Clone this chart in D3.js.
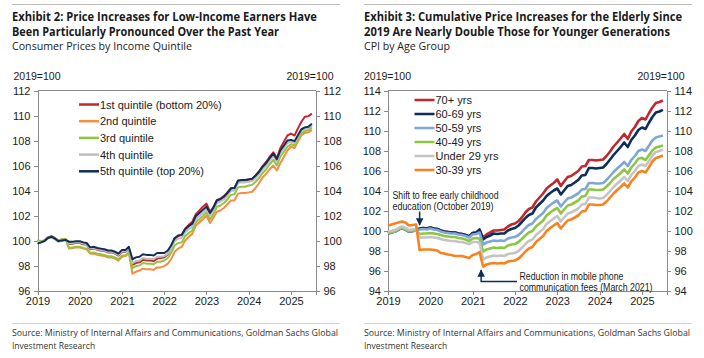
<!DOCTYPE html>
<html>
<head>
<meta charset="utf-8">
<script src="https://cdn.jsdelivr.net/npm/d3@7"></script>
<style>
  body { margin: 0; background: #fff; }
  svg { display: block; }
  .ax text { font-family: "Liberation Sans", Arial, sans-serif; font-size: 11px; fill: #1a1a1a; }
  .ax path, .ax line { stroke: #8a8a8a; stroke-width: 1; shape-rendering: crispEdges; }
</style>
</head>
<body>
<svg id="chart" width="704" height="358"></svg>
<script>
// ---------- data (monthly, Jan 2019 – Jul 2025) ----------
const startMonth = [2019, 0];
const nMonths = 79;
const yearTicks = [2019, 2020, 2021, 2022, 2023, 2024, 2025];

// Exhibit 2: CPI by income quintile (2019=100)
const quintileNames = ["1st quintile (bottom 20%)", "2nd quintile", "3rd quintile", "4th quintile", "5th quintile (top 20%)"];
const quintileColors = ["#c3282f", "#f68d3f", "#8dc641", "#bdbdbd", "#0f2e57"];
const q1 = [99.95,99.9,100.0,100.25,100.35,100.2,100.0,100.05,100.1,99.75,99.75,99.8,
  99.8,99.7,99.65,99.3,99.35,99.25,99.2,99.15,99.05,99.05,98.95,98.8,
  99.1,99.1,99.35,98.05,98.2,98.25,98.45,98.4,98.4,98.35,98.55,98.6,
  98.65,98.9,99.4,100.1,100.35,100.45,100.95,101.25,101.5,102.1,102.4,102.7,
  102.95,102.3,102.65,103.25,103.35,103.55,103.85,104.2,104.2,104.75,104.8,104.8,
  104.85,104.9,105.2,105.55,105.95,106.3,106.7,107.05,106.6,107.4,107.9,108.4,
  108.55,108.4,108.95,109.5,109.9,109.95,110.15];
const q2 = [100.0,99.95,100.0,100.2,100.3,100.15,100.0,100.1,100.1,99.35,99.4,99.45,
  99.45,99.35,99.3,98.95,98.95,98.85,98.8,98.75,98.65,98.65,98.55,98.4,
  98.7,98.75,99.0,97.35,97.5,97.6,97.75,97.7,97.7,97.65,97.85,97.85,
  97.95,98.15,98.5,99.1,99.35,99.5,100.0,100.3,100.55,101.2,101.45,101.7,
  102.0,101.4,101.8,102.3,102.4,102.6,102.9,103.2,103.2,103.75,103.8,103.8,
  103.85,103.9,104.2,104.6,105.05,105.35,105.7,106.0,105.6,106.2,106.7,107.2,
  107.5,107.4,107.9,108.4,108.6,108.65,108.85];
const q3 = [100.0,99.95,100.0,100.2,100.3,100.15,100.0,100.1,100.1,99.4,99.45,99.5,
  99.5,99.4,99.35,99.0,99.05,98.95,98.9,98.85,98.75,98.75,98.65,98.5,
  98.8,98.8,99.05,97.8,97.95,98.0,98.2,98.15,98.15,98.1,98.3,98.3,
  98.4,98.6,99.0,99.6,99.8,99.85,100.35,100.6,100.8,101.45,101.7,101.95,
  102.25,101.7,102.1,102.7,102.8,103.0,103.3,103.65,103.7,104.25,104.3,104.3,
  104.4,104.45,104.7,105.0,105.4,105.7,106.1,106.45,106.0,106.7,107.1,107.5,
  107.7,107.6,108.05,108.55,108.75,108.8,109.05];
const q4 = [99.95,99.85,99.95,100.15,100.25,100.1,99.9,99.95,100.0,99.8,99.8,99.85,
  99.85,99.75,99.7,99.35,99.4,99.3,99.25,99.2,99.1,99.1,99.0,98.85,
  99.15,99.15,99.4,98.2,98.35,98.4,98.6,98.55,98.55,98.5,98.7,98.7,
  98.75,98.95,99.35,99.95,100.15,100.2,100.65,100.9,101.1,101.7,101.95,102.2,
  102.5,102.0,102.4,103.0,103.1,103.3,103.6,103.95,104.0,104.6,104.65,104.65,
  104.7,104.75,105.0,105.3,105.7,106.0,106.4,106.75,106.3,107.0,107.4,107.8,
  107.9,107.8,108.25,108.75,108.9,108.95,109.2];
const q5 = [99.75,99.85,99.95,100.2,100.3,100.15,99.95,100.0,100.05,99.9,99.9,99.95,
  99.95,99.85,99.8,99.45,99.5,99.4,99.35,99.3,99.2,99.2,99.1,98.95,
  99.25,99.25,99.5,98.5,98.65,98.7,98.9,98.85,98.85,98.8,99.0,99.0,
  99.0,99.2,99.6,100.2,100.4,100.45,100.9,101.15,101.35,101.95,102.2,102.45,
  102.7,102.2,102.6,103.2,103.3,103.5,103.8,104.15,104.2,104.8,104.85,104.85,
  104.9,104.95,105.2,105.5,105.9,106.2,106.6,106.95,106.5,107.2,107.6,108.0,
  108.05,107.95,108.4,108.9,109.05,109.1,109.35];
const leftYTicks = [96, 98, 100, 102, 104, 106, 108, 110, 112];

// Exhibit 3: CPI by age group (2019=100)
const ageNames = ["70+ yrs", "60-69 yrs", "50-59 yrs", "40-49 yrs", "Under 29 yrs", "30-39 yrs"];
const ageColors = ["#c0282e", "#0b2e5a", "#7ea6d8", "#8dc641", "#c4c4c4", "#f7821f"];
const age70 = [99.75,99.85,99.9,100.1,100.25,100.1,99.9,99.95,100.0,100.15,100.25,100.2,
  100.3,100.2,100.15,100.0,99.9,99.85,99.8,99.8,99.7,99.65,99.55,99.4,
  99.75,99.8,100.05,99.3,99.6,99.8,100.0,100.0,100.05,100.1,100.4,100.6,
  100.7,100.95,101.3,101.8,102.15,102.3,102.9,103.3,103.7,104.2,104.5,104.75,
  105.1,104.45,104.9,105.35,105.45,105.7,105.95,106.4,106.45,107.05,107.05,107.0,
  107.05,107.1,107.45,107.9,108.4,108.8,109.2,109.65,109.15,109.9,110.35,110.95,
  111.25,111.1,111.7,112.3,112.75,112.85,113.0];
const age60 = [99.7,99.8,99.9,100.1,100.25,100.1,99.9,99.95,100.0,100.2,100.25,100.2,
  100.3,100.2,100.15,100.0,99.9,99.85,99.8,99.8,99.7,99.65,99.55,99.4,
  99.75,99.8,100.1,99.1,99.35,99.5,99.7,99.65,99.7,99.7,100.0,100.15,
  100.25,100.5,100.85,101.25,101.55,101.7,102.3,102.65,103.0,103.45,103.75,104.0,
  104.2,103.6,104.0,104.45,104.55,104.8,105.05,105.5,105.55,106.25,106.25,106.2,
  106.25,106.3,106.65,107.1,107.55,107.95,108.35,108.8,108.35,109.05,109.5,110.05,
  110.3,110.15,110.75,111.35,111.8,111.9,112.07];
const age50 = [99.7,99.8,99.9,100.1,100.25,100.1,99.9,99.95,100.0,100.1,100.15,100.1,
  100.2,100.1,100.05,99.9,99.8,99.75,99.7,99.7,99.6,99.55,99.45,99.3,
  99.6,99.65,99.8,98.6,98.8,98.9,99.0,98.95,99.0,98.95,99.2,99.3,
  99.35,99.55,99.85,100.25,100.55,100.7,101.15,101.45,101.75,102.25,102.55,102.8,
  103.0,102.4,102.8,103.2,103.3,103.5,103.7,104.1,104.15,104.75,104.75,104.7,
  104.7,104.75,105.05,105.45,105.85,106.2,106.5,106.85,106.45,107.05,107.45,107.95,
  108.1,107.95,108.45,109.0,109.3,109.4,109.5];
const age40 = [99.8,99.85,99.95,100.15,100.3,100.15,99.95,100.0,100.05,99.65,99.7,99.7,
  99.75,99.7,99.65,99.55,99.45,99.4,99.35,99.35,99.25,99.2,99.1,98.95,
  99.2,99.25,99.2,97.9,98.1,98.2,98.3,98.25,98.3,98.25,98.5,98.6,
  98.65,98.85,99.15,99.5,99.8,99.95,100.4,100.7,101.0,101.5,101.8,102.05,
  102.25,101.7,102.1,102.5,102.6,102.8,103.0,103.4,103.45,104.1,104.1,104.05,
  104.05,104.1,104.4,104.75,105.15,105.45,105.75,106.1,105.7,106.3,106.7,107.2,
  107.25,107.05,107.5,108.0,108.3,108.4,108.5];
const ageU29 = [99.9,99.95,100.05,100.25,100.4,100.25,100.05,100.1,100.15,99.3,99.3,99.3,
  99.35,99.3,99.25,99.15,99.05,99.0,98.95,98.95,98.85,98.85,98.75,98.65,
  98.85,98.85,98.8,97.1,97.3,97.4,97.5,97.45,97.5,97.45,97.65,97.7,
  97.75,97.95,98.25,98.65,98.95,99.1,99.55,99.85,100.15,100.65,100.95,101.2,
  101.45,100.9,101.3,101.7,101.8,102.0,102.2,102.6,102.65,103.3,103.3,103.25,
  103.2,103.25,103.55,103.95,104.35,104.7,105.0,105.35,104.95,105.55,105.95,106.45,
  106.6,106.45,106.9,107.5,107.85,107.95,108.1];
const age30 = [100.5,100.6,100.7,100.8,100.9,100.8,100.5,100.55,100.6,98.05,98.1,98.1,
  98.1,98.05,98.0,97.75,97.7,97.6,97.55,97.45,97.45,97.45,97.35,97.25,
  97.55,97.65,97.85,96.4,96.6,96.7,96.75,96.7,96.75,96.7,96.9,96.95,
  97.0,97.2,97.5,97.9,98.2,98.35,98.85,99.15,99.45,99.95,100.25,100.5,
  100.75,100.2,100.6,101.0,101.1,101.3,101.5,101.9,101.95,102.6,102.6,102.55,
  102.55,102.6,102.9,103.3,103.7,104.05,104.35,104.7,104.3,104.9,105.3,105.8,
  105.95,105.8,106.3,106.9,107.25,107.35,107.5];
const rightYTicks = [94, 96, 98, 100, 102, 104, 106, 108, 110, 112, 114];

// ---------- drawing ----------
const svg = d3.select("#chart");
const months = d3.range(nMonths).map(i => new Date(startMonth[0], startMonth[1] + i, 1));
const titleFont = '"Open Sans", "Noto Sans", sans-serif';
const axisFont = '"Liberation Sans", Arial, sans-serif';

function fitText(sel, len) {
  return sel.attr("textLength", len).attr("lengthAdjust", "spacingAndGlyphs");
}

function header(x0, x1, lines, sub, subLen) {
  svg.append("line").attr("x1", x0).attr("x2", x1).attr("y1", 4.5).attr("y2", 4.5)
    .attr("stroke", "#bdbdbd").attr("stroke-width", 1);
  lines.forEach((l, i) => {
    fitText(svg.append("text").attr("x", x0).attr("y", 21 + i * 14.5)
      .attr("font-family", titleFont).attr("font-weight", 700).attr("font-size", 11.5)
      .attr("fill", "#1a1a1a"), l[1]).text(l[0]);
  });
  fitText(svg.append("text").attr("x", x0).attr("y", 50)
    .attr("font-family", titleFont).attr("font-size", 11.2).attr("fill", "#222"), subLen).text(sub);
}

function footer(x0, x1) {
  svg.append("line").attr("x1", x0).attr("x2", x1).attr("y1", 323.5).attr("y2", 323.5)
    .attr("stroke", "#cfcfcf").attr("stroke-width", 1);
  fitText(svg.append("text").attr("x", x0).attr("y", 336)
    .attr("font-family", titleFont).attr("font-size", 8.5).attr("fill", "#333"), 326)
    .text("Source: Ministry of Internal Affairs and Communications, Goldman Sachs Global");
  svg.append("text").attr("x", x0).attr("y", 349)
    .attr("font-family", titleFont).attr("font-size", 8.5).attr("fill", "#333")
    .text("Investment Research");
}

function panel(opt) {
  const x = d3.scaleTime().domain([new Date(2019, 0, 1), new Date(2025, 7, 1)]).range([opt.left, opt.right]);
  const y = d3.scaleLinear().domain(opt.yDomain).range([290.5, 90.5]);
  const g = svg.append("g");

  g.append("line").attr("x1", opt.left).attr("x2", opt.right).attr("y1", y(opt.yDomain[1])).attr("y2", y(opt.yDomain[1]))
    .attr("stroke", "#8a8a8a").attr("shape-rendering", "crispEdges");

  g.append("g").attr("class", "ax").attr("transform", `translate(${opt.left},0)`)
    .call(d3.axisLeft(y).tickValues(opt.yTicks).tickSize(4).tickPadding(3).tickFormat(d3.format("d")));
  g.append("g").attr("class", "ax").attr("transform", `translate(${opt.right},0)`)
    .call(d3.axisRight(y).tickValues(opt.yTicks).tickSize(4).tickPadding(4).tickFormat(d3.format("d")));
  g.append("g").attr("class", "ax").attr("transform", `translate(0,${y(opt.yDomain[0])})`)
    .call(d3.axisBottom(x).tickValues(yearTicks.map(v => new Date(v, 0, 1))).tickSize(4).tickPadding(3)
      .tickFormat(d3.timeFormat("%Y")));

  g.append("text").attr("x", opt.left - 24).attr("y", 80).attr("font-family", axisFont).attr("font-size", 10.5)
    .attr("fill", "#1a1a1a").text("2019=100");
  g.append("text").attr("x", opt.right + 18).attr("y", 80).attr("font-family", axisFont).attr("font-size", 10.5)
    .attr("fill", "#1a1a1a").attr("text-anchor", "end").text("2019=100");

  const line = d3.line().x((d, i) => x(months[i])).y(d => y(d));
  opt.series.forEach((s, i) => {
    g.append("path").datum(s).attr("d", line).attr("fill", "none")
      .attr("stroke", opt.colors[i]).attr("stroke-width", opt.lw).attr("stroke-linejoin", "round");
  });

  opt.names.forEach((n, i) => {
    const ly = opt.legY + i * opt.legStep;
    g.append("line").attr("x1", opt.legX).attr("x2", opt.legX + 20).attr("y1", ly).attr("y2", ly)
      .attr("stroke", opt.colors[i]).attr("stroke-width", 2.5);
    g.append("text").attr("x", opt.legX + 21).attr("y", ly + 4).attr("font-family", axisFont)
      .attr("font-size", 11).attr("fill", "#1a1a1a").text(n);
  });
  return {x, y, g};
}

// Left panel
header(12, 340, [["Exhibit 2: Price Increases for Low-Income Earners Have", 305],
                 ["Been Particularly Pronounced Over the Past Year", 267]],
       "Consumer Prices by Income Quintile", 180);
footer(12, 340);
panel({
  left: 37.5, right: 315.5, yDomain: [96, 112], yTicks: leftYTicks,
  series: [q1, q2, q3, q4, q5], colors: quintileColors, names: quintileNames,
  lw: 2, legX: 79, legY: 104.5, legStep: 16.7
});

// Right panel
header(364, 692, [["Exhibit 3: Cumulative Price Increases for the Elderly Since", 318],
                  ["2019 Are Nearly Double Those for Younger Generations", 306]],
       "CPI by Age Group", 86);
footer(364, 692);
const R = panel({
  left: 388, right: 666.5, yDomain: [94, 114], yTicks: rightYTicks,
  series: [age70, age60, age50, age40, ageU29, age30], colors: ageColors, names: ageNames,
  lw: 2.6, legX: 414.5, legY: 100, legStep: 14
});

// annotations (right panel)
const navy = "#0b2e5a";
const defs = svg.append("defs");
defs.append("marker").attr("id", "ah").attr("viewBox", "0 0 10 10").attr("refX", 9).attr("refY", 5)
  .attr("markerWidth", 5).attr("markerHeight", 5).attr("orient", "auto-start-reverse")
  .append("path").attr("d", "M0,0 L10,5 L0,10 z").attr("fill", navy);

function note(x0, y0, txt, len) {
  fitText(R.g.append("text").attr("x", x0).attr("y", y0).attr("font-family", axisFont).attr("font-size", 10)
    .attr("fill", "#1a1a1a"), len).text(txt);
}
const ax1 = R.x(new Date(2019, 9, 1));
note(392.5, 199, "Shift to free early childhood", 106);
note(392.5, 209.5, "education (October 2019)", 101);
R.g.append("line").attr("x1", ax1).attr("x2", ax1).attr("y1", 211.5).attr("y2", 225)
  .attr("stroke", navy).attr("stroke-width", 1.5).attr("marker-end", "url(#ah)");

const ax2 = R.x(new Date(2021, 2, 15));
R.g.append("path").attr("d", `M517,281.5 L${ax2},281.5 L${ax2},270`).attr("fill", "none")
  .attr("stroke", navy).attr("stroke-width", 1.5).attr("marker-end", "url(#ah)");
note(519.5, 279.5, "Reduction in mobile phone", 104);
note(519.5, 291, "communication fees (March 2021)", 133);
</script>
</body>
</html>
